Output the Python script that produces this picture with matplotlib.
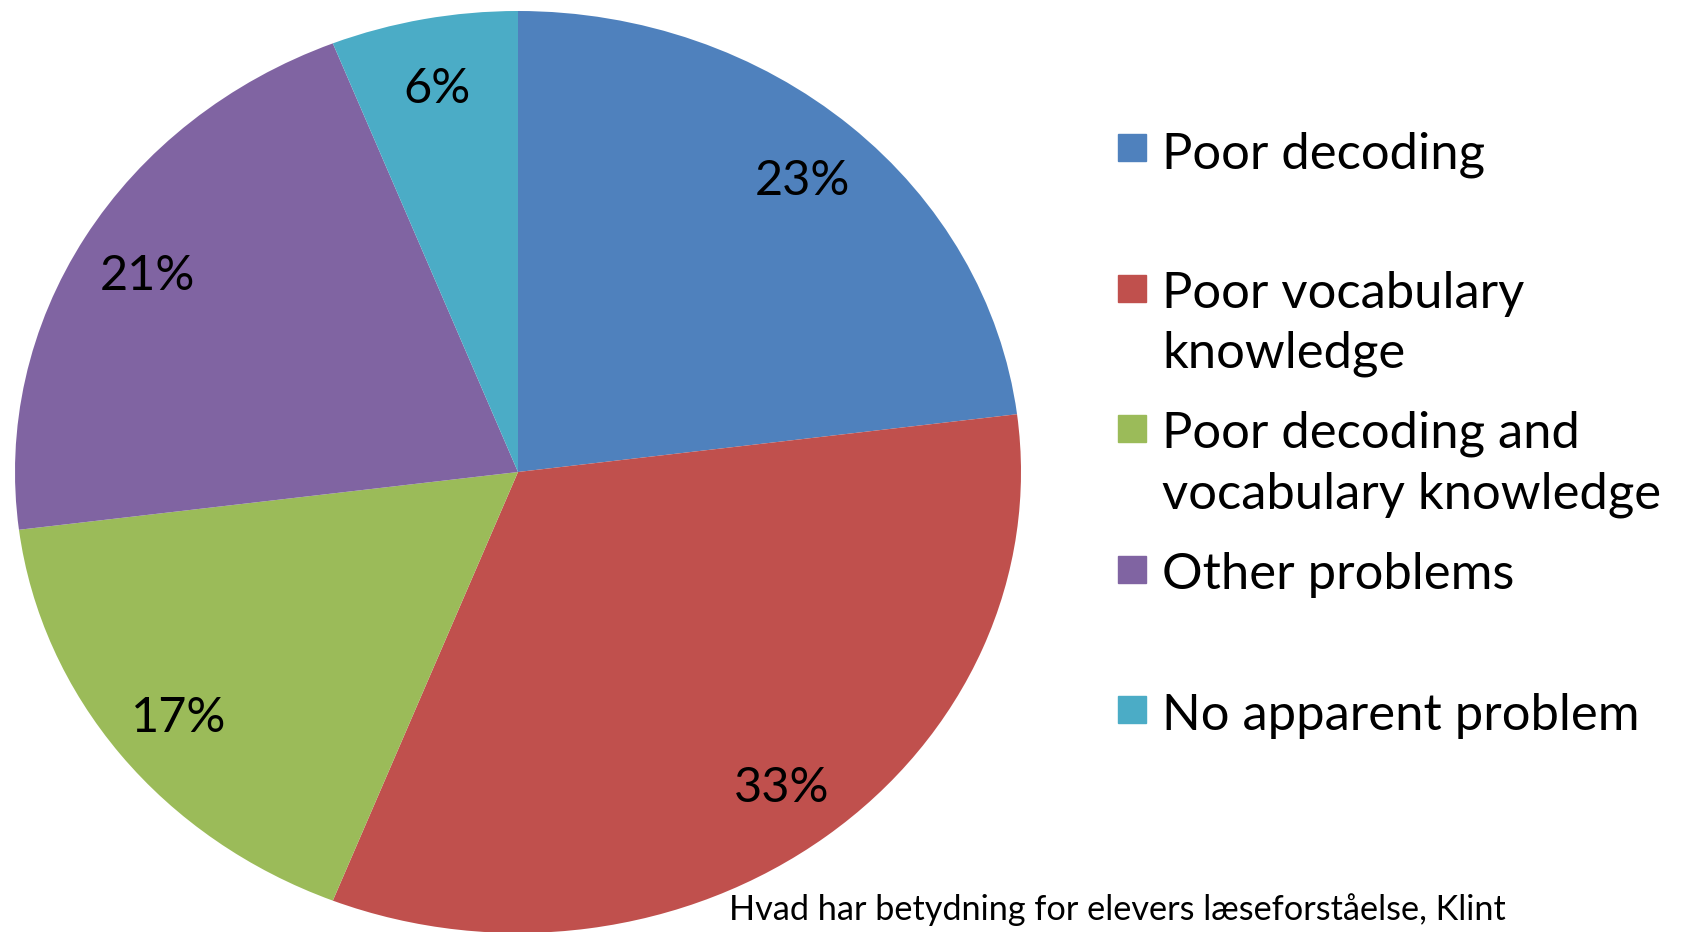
import matplotlib
matplotlib.use("Agg")
import matplotlib.pyplot as plt
from matplotlib.patches import Rectangle

# Share of pupils by type of reading problem
categories = ["Poor decoding", "Poor vocabulary\nknowledge",
              "Poor decoding and\nvocabulary knowledge", "Other problems",
              "No apparent problem"]
shares = [23, 33, 17, 21, 6]
colors = ["#4F81BD", "#C0504D", "#9BBB59", "#8064A2", "#4BACC6"]
source = "Hvad har betydning for elevers læseforståelse, Klint"

W, H = 1682, 932
fig = plt.figure(figsize=(W / 100, H / 100), dpi=100)
plt.rcParams['font.family'] = ['Lato', 'DejaVu Sans']

# pie is slightly wider than tall in the reference
ax = fig.add_axes([15 / W, -1 / H, 1006 / W, 922 / H])
wedges, texts = ax.pie(shares, colors=colors, startangle=90, counterclock=False,
                       labels=[f"{s}%" for s in shares], labeldistance=0.855,
                       wedgeprops=dict(linewidth=0),
                       textprops=dict(fontsize=35, color='black', ha='center', va='center'))
for t in texts:
    x, y = t.get_position()
    t.set_position((x, y - 0.01))
ax.set_aspect('auto')
ax.set_xlim(-1, 1)
ax.set_ylim(-1, 1)
ax.axis('off')

# legend drawn by hand: equal spacing between first lines
line_h = 59
for i, (cat, col) in enumerate(zip(categories, colors)):
    base = 168 + i * 140.5
    nlines = cat.count("\n") + 1
    fig.patches.append(Rectangle((1118 / W, 1 - (base - 7) / H), 28 / W, 27 / H,
                                 transform=fig.transFigure, color=col))
    fig.text(1162 / W, 1 - (base + (nlines - 1) * line_h) / H, cat, fontsize=36.5,
             va='baseline', ha='left', linespacing=1.37)

fig.text(729 / W, 1 - 920 / H, source, fontsize=24.7, va='baseline', ha='left')

fig.savefig("out.png", dpi=100)
